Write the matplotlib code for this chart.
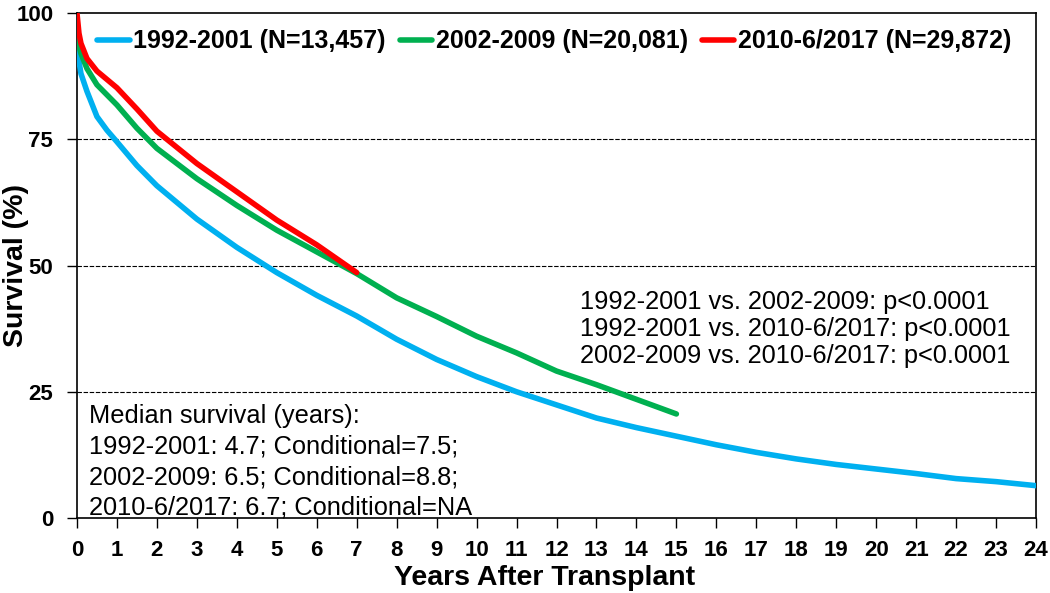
import numpy as np
import matplotlib
matplotlib.use('Agg')
import matplotlib.pyplot as plt

plt.rcParams['font.family'] = ['Liberation Sans', 'DejaVu Sans']

# Curvas de supervivencia
years_a = [0, 0.1, 0.25, 0.5, 0.75, 1, 1.5, 2, 3, 4, 5, 6, 7, 8, 9, 10, 11, 12,
           13, 14, 15, 16, 17, 18, 19, 20, 21, 22, 23, 24]
surv_a = [93, 88, 84.5, 79.5, 76.8, 74.5, 69.8, 65.8, 59.2, 53.6, 48.6, 44.1,
          40.0, 35.4, 31.4, 28.0, 25.0, 22.4, 19.8, 17.9, 16.2, 14.5, 13.0,
          11.7, 10.6, 9.7, 8.8, 7.8, 7.2, 6.4]

years_b = [0, 0.1, 0.25, 0.5, 1, 1.5, 2, 3, 4, 5, 6, 7, 8, 9, 10, 11, 12, 13, 14, 15]
surv_b = [95, 92, 89, 85.8, 81.8, 77.2, 73.2, 67.2, 61.9, 57.0, 52.7, 48.4,
          43.6, 39.9, 36.0, 32.7, 29.1, 26.4, 23.5, 20.6]

years_c = [0, 0.05, 0.1, 0.25, 0.5, 1, 1.5, 2, 3, 4, 5, 6, 7]
surv_c = [100, 96, 94, 91, 88.5, 85.2, 81, 76.6, 70.2, 64.6, 59.0, 54.1, 48.6]

labels = ['1992-2001 (N=13,457)', '2002-2009 (N=20,081)', '2010-6/2017 (N=29,872)']
colors = ['#00B0F0', '#00B050', '#FF0000']

pvals = ('1992-2001 vs. 2002-2009: p<0.0001\n'
         '1992-2001 vs. 2010-6/2017: p<0.0001\n'
         '2002-2009 vs. 2010-6/2017: p<0.0001')
median_txt = ('Median survival (years):\n'
              '1992-2001: 4.7; Conditional=7.5;\n'
              '2002-2009: 6.5; Conditional=8.8;\n'
              '2010-6/2017: 6.7; Conditional=NA')

fig = plt.figure(figsize=(10.5, 5.93), dpi=100)
ax = fig.add_axes([0.0733, 0.1265, 0.9134, 0.8515])

for yrs, s, lab, c in zip([years_a, years_b, years_c], [surv_a, surv_b, surv_c], labels, colors):
    ax.plot(yrs, s, color=c, lw=4, label=lab, solid_capstyle='round', zorder=3)

for g in [25, 50, 75]:
    ax.axhline(g, color='black', ls=(0, (4, 1.5)), lw=0.8, zorder=1)

ax.set_xlim(0, 24)
ax.set_ylim(0, 100)
ax.set_xticks(range(0, 25))
ax.set_yticks([0, 25, 50, 75, 100])
ax.tick_params(axis='both', direction='out', length=7, width=1, labelsize=16)
ax.tick_params(axis='x', pad=9)
ax.tick_params(axis='y', pad=10)
for t in ax.get_xticklabels() + ax.get_yticklabels():
    t.set_fontweight('bold')
for sp in ax.spines.values():
    sp.set_linewidth(1.2)

ax.set_xlabel('Years After Transplant', fontsize=20.5, fontweight='bold')
ax.xaxis.set_label_coords(0.488, -0.094)
ax.set_ylabel('Survival (%)', fontsize=20.5, fontweight='bold')
ax.yaxis.set_label_coords(-0.05, 0.5)

ax.legend(loc='upper left', bbox_to_anchor=(0.004, 1.0), ncol=3, frameon=False,
          prop={'size': 18, 'weight': 'bold'}, handlelength=1.3, handletextpad=0.15,
          columnspacing=0.55, borderaxespad=0.25)

ax.text(12.59, 37.4, pvals, fontsize=18.3, ha='left', va='center', linespacing=1.15)
ax.text(0.3, 11.1, median_txt, fontsize=18.3, ha='left', va='center', linespacing=1.35)

plt.savefig('out.png', dpi=100)
